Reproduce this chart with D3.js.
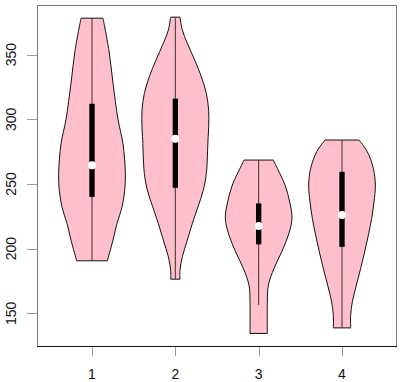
<!DOCTYPE html>
<html>
<head>
<meta charset="utf-8">
<script src="https://cdn.jsdelivr.net/npm/d3@7"></script>
<style>
  body { margin: 0; background: #fff; }
  svg text { font-family: "Liberation Sans", Arial, sans-serif; font-size: 14px; fill: #111; }
</style>
</head>
<body>
<div id="chart"></div>
<script>
// groups on the x axis
const groups = [1, 2, 3, 4];

// density profiles: value along y, relative half width (max = 1)
const v1Values = [378.2, 353, 328, 300, 281, 258, 245, 232, 219.5, 206.6, 190.6];
const v1Width  = [0.33, 0.51, 0.63, 0.78, 0.93, 1.0, 0.98, 0.90, 0.75, 0.63, 0.46];
const v2Values = [379, 369, 358.8, 345.9, 333, 320, 307, 294.3, 284, 258.2, 245.3, 232.4, 219.5, 206.6, 193.7, 183.4, 176.4];
const v2Width  = [0.14, 0.21, 0.36, 0.58, 0.78, 0.93, 1.0, 1.0, 0.98, 0.93, 0.84, 0.68, 0.51, 0.36, 0.21, 0.14, 0.14];
const v3Values = [268.5, 262.1, 249.2, 236.2, 223.4, 210.4, 197.5, 184.7, 171.7, 158.8, 134.4];
const v3Width  = [0.44, 0.56, 0.79, 0.93, 1.0, 0.89, 0.69, 0.46, 0.29, 0.26, 0.26];
const v4Values = [284, 274.9, 262.1, 249.2, 236.2, 223.4, 210.4, 197.5, 184.7, 171.7, 158.8, 148.5, 138.7];
const v4Width  = [0.51, 0.76, 0.94, 1.0, 0.96, 0.89, 0.79, 0.68, 0.56, 0.43, 0.31, 0.26, 0.26];

// box statistics per group
const lowerWhisker = [190.6, 176.4, 156.3, 138.7];
const q1           = [240, 247, 203.3, 201.4];
const median       = [264.5, 285, 217.5, 226];
const q3           = [312, 316, 235, 259.4];
const upperWhisker = [378.2, 379, 268.5, 284];

const yTicks = [150, 200, 250, 300, 350];

const profiles = [
  [v1Values, v1Width], [v2Values, v2Width], [v3Values, v3Width], [v4Values, v4Width]
];

const W = 400, H = 382;
const plot = {left: 37, right: 397, top: 5, bottom: 346};

const x = d3.scaleLinear().domain([0.34, 4.66]).range([plot.left, plot.right]);
const y = d3.scaleLinear().domain([124.7, 388.4]).range([plot.bottom, plot.top]);

const svg = d3.select("#chart").append("svg")
  .attr("width", W).attr("height", H);

// violins
const wex = 0.4;
profiles.forEach(([vals, wid], i) => {
  const c = groups[i];
  const right = vals.map((v, k) => [x(c + wex * wid[k]), y(v)]);
  const left = vals.map((v, k) => [x(c - wex * wid[k]), y(v)]).reverse();
  const line = d3.line().curve(d3.curveCatmullRom.alpha(0.5));
  const pathR = line(right);
  const pathL = line(left).replace(/^M/, "L");
  svg.append("path")
    .attr("d", pathR + pathL + "Z")
    .attr("fill", "#FFC0CB")
    .attr("stroke", "#111")
    .attr("stroke-width", 1);
});

// whiskers, boxes, medians
const g = svg.append("g");
g.selectAll("line.whisker").data(groups).join("line")
  .attr("class", "whisker")
  .attr("x1", d => x(d)).attr("x2", d => x(d))
  .attr("y1", (d, i) => y(lowerWhisker[i])).attr("y2", (d, i) => y(upperWhisker[i]))
  .attr("stroke", "#333").attr("stroke-width", 1);

const boxHalf = 0.032;
g.selectAll("rect.box").data(groups).join("rect")
  .attr("class", "box")
  .attr("x", d => x(d - boxHalf))
  .attr("width", d => x(d + boxHalf) - x(d - boxHalf))
  .attr("y", (d, i) => y(q3[i]))
  .attr("height", (d, i) => y(q1[i]) - y(q3[i]))
  .attr("fill", "#000");

g.selectAll("circle.med").data(groups).join("circle")
  .attr("class", "med")
  .attr("cx", d => x(d))
  .attr("cy", (d, i) => y(median[i]))
  .attr("r", 4)
  .attr("fill", "#fff");

// frame
svg.append("rect")
  .attr("x", plot.left + 0.5).attr("y", plot.top + 0.5)
  .attr("width", plot.right - plot.left - 1).attr("height", plot.bottom - plot.top)
  .attr("fill", "none").attr("stroke", "#7a7a7a");
svg.append("line")
  .attr("x1", plot.left).attr("x2", plot.right)
  .attr("y1", plot.bottom + 0.5).attr("y2", plot.bottom + 0.5)
  .attr("stroke", "#111");

// x axis
const xAxis = svg.append("g");
xAxis.selectAll("line").data(groups).join("line")
  .attr("x1", d => Math.round(x(d)) + 0.5).attr("x2", d => Math.round(x(d)) + 0.5)
  .attr("y1", plot.bottom + 1).attr("y2", plot.bottom + 10)
  .attr("stroke", "#999");
xAxis.selectAll("text").data(groups).join("text")
  .attr("x", d => x(d)).attr("y", plot.bottom + 33)
  .attr("text-anchor", "middle")
  .text(d => d);

// y axis
const yAxis = svg.append("g");
yAxis.selectAll("line").data(yTicks).join("line")
  .attr("x1", plot.left - 10).attr("x2", plot.left)
  .attr("y1", d => Math.round(y(d)) + 0.5).attr("y2", d => Math.round(y(d)) + 0.5)
  .attr("stroke", "#999");
yAxis.selectAll("text").data(yTicks).join("text")
  .attr("transform", d => `translate(16,${y(d)}) rotate(-90)`)
  .attr("text-anchor", "middle")
  .text(d => d);
</script>
</body>
</html>
